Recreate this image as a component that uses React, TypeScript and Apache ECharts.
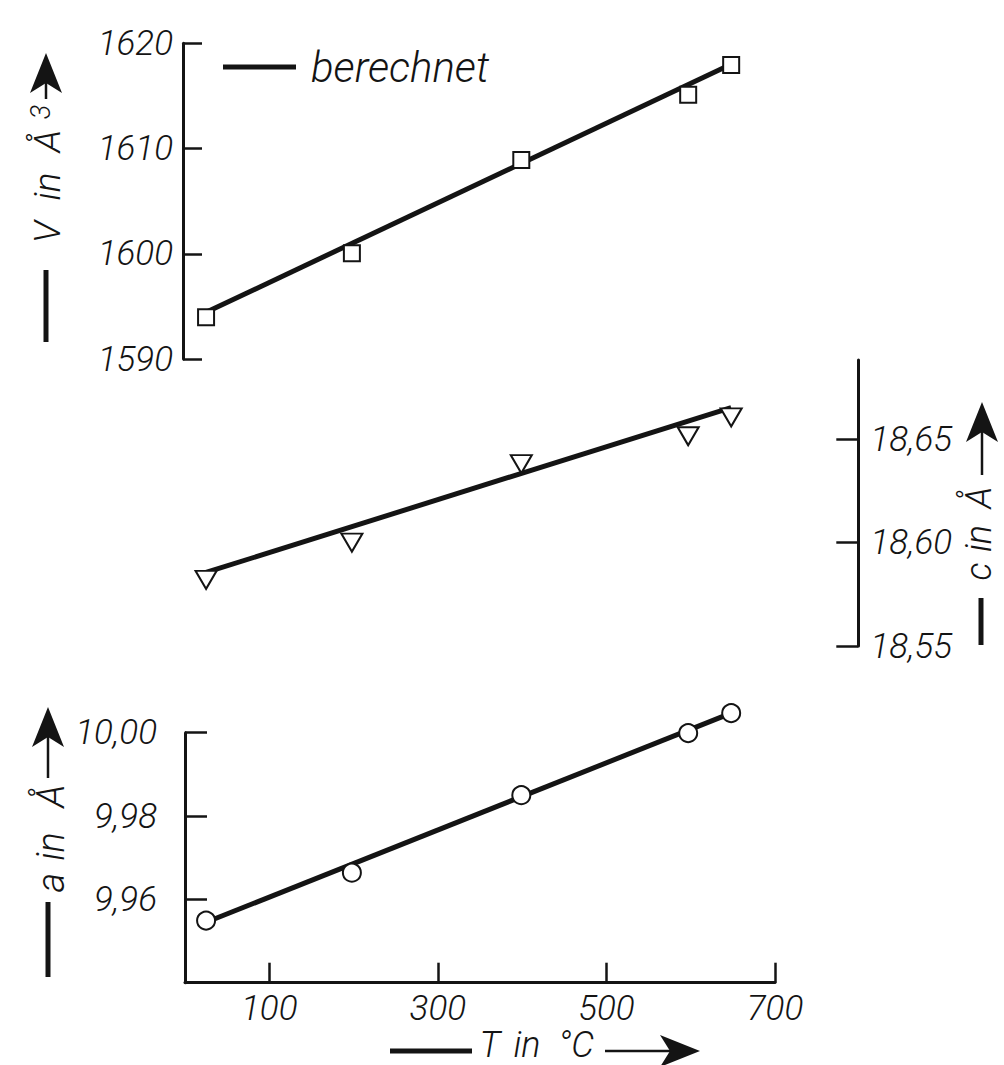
import React, { useEffect, useRef } from 'react';
import * as echarts from 'echarts';

// ---- data ----
const temperatures = [25, 198, 399, 597, 648]; // T in °C
const volumeValues = [1593.96, 1600.05, 1608.92, 1615.1, 1617.94]; // V in Å³ (squares)
const cValues = [18.582, 18.6, 18.638, 18.6515, 18.6606]; // c in Å (triangles)
const aValues = [9.9549, 9.9664, 9.985, 9.9999, 10.0047]; // a in Å (circles)

// calculated ("berechnet") straight lines, end points
const fitT = [25, 648];
const fitV = [1594.44, 1618.0];
const fitC = [18.5856, 18.6654];
const fitA = [9.9545, 10.0047];

const xTicks = [100, 300, 500, 700];

const FONT = 'Roboto, "Liberation Sans", sans-serif';
const INK = '#141414';

const fmtComma = (v: number) => v.toFixed(2).replace('.', ',');
const pairs = (xs: number[], ys: number[]) => xs.map((x, i) => [x, ys[i]]);

const labelStyle = {
  color: INK,
  fontFamily: FONT,
  fontStyle: 'italic',
  fontWeight: 300,
  fontSize: 35,
};

function textStyle(t: string, fs: number) {
  return {
    text: t,
    fontSize: fs,
    fontFamily: FONT,
    fontStyle: 'italic',
    fontWeight: 300,
    fill: INK,
    align: 'center',
    verticalAlign: 'middle',
    textAlign: 'center',
    textVerticalAlign: 'middle',
  };
}

function vText(t: string, x: number, y: number, fs: number) {
  return { type: 'text', x, y, rotation: Math.PI / 2, silent: true, style: textStyle(t, fs) };
}

function hText(t: string, x: number, y: number, fs: number) {
  return { type: 'text', x, y, silent: true, style: textStyle(t, fs) };
}

function vBar(cx: number, y1: number, y2: number) {
  return { type: 'rect', silent: true, shape: { x: cx - 2.5, y: y1, width: 5, height: y2 - y1 }, style: { fill: INK } };
}

function upArrow(cx: number, stemBottom: number, tip: number) {
  const wings = tip + 40;
  const notch = tip + 30;
  return [
    { type: 'line', silent: true, shape: { x1: cx, y1: stemBottom, x2: cx, y2: notch }, style: { stroke: INK, lineWidth: 2.5 } },
    {
      type: 'polygon',
      silent: true,
      shape: { points: [[cx, tip], [cx + 16, wings], [cx, notch], [cx - 16, wings]] },
      style: { fill: INK },
    },
  ];
}

function rightArrow(cy: number, stemLeft: number, tip: number) {
  const wings = tip - 40;
  const notch = tip - 30;
  return [
    { type: 'line', silent: true, shape: { x1: stemLeft, y1: cy, x2: notch, y2: cy }, style: { stroke: INK, lineWidth: 2.5 } },
    {
      type: 'polygon',
      silent: true,
      shape: { points: [[tip, cy], [wings, cy - 16], [notch, cy], [wings, cy + 16]] },
      style: { fill: INK },
    },
  ];
}

export default function App() {
  const ref = useRef<HTMLDivElement>(null);

  useEffect(() => {
    if (!ref.current) return;
    const chart = echarts.init(ref.current, undefined, { renderer: 'svg' });

    const axisLine = { show: true, onZero: false, lineStyle: { color: INK, width: 3 } };
    const hiddenX = (gridIndex: number) => ({
      type: 'value',
      gridIndex,
      min: 0,
      max: 700,
      show: false,
    });

    const graphic: any[] = [
      // top-left: V in Å3
      vBar(46, 270, 342),
      vText('V', 47, 232, 37),
      vText('in', 47, 186.5, 37),
      vText('Å', 47, 141, 37),
      vText('3', 41, 112, 27),
      ...upArrow(46, 99, 53),
      // right: c in Å
      vBar(981, 598, 645),
      vText('c', 979, 571.5, 36),
      vText('in', 979, 538.5, 36),
      vText('Å', 979, 497.5, 36),
      ...upArrow(982, 475, 402),
      // bottom-left: a in Å
      vBar(48, 902, 977),
      vText('a', 51, 882.5, 38),
      vText('in', 51, 846.5, 38),
      vText('Å', 51, 796, 38),
      ...upArrow(48, 778, 707),
      // x name: T in °C
      { type: 'rect', silent: true, shape: { x: 390, y: 1048.5, width: 82, height: 5 }, style: { fill: INK } },
      hText('T', 490, 1045, 36),
      hText('in', 527, 1045, 36),
      hText('°C', 576, 1045, 36),
      ...rightArrow(1051, 605, 700),
    ];

    const scatterItem = { color: '#ffffff', borderColor: INK, borderWidth: 2, opacity: 1 };

    chart.setOption({
      animation: false,
      backgroundColor: '#ffffff',
      legend: {
        data: [{ name: 'berechnet', icon: 'rect' }],
        left: 223,
        top: 46,
        padding: 0,
        itemWidth: 73,
        itemHeight: 5,
        selectedMode: false,
        textStyle: { ...labelStyle, fontSize: 42, padding: [0, 0, 0, 10] },
      },
      grid: [
        { left: 185, right: 229, top: 43.3, height: 315.7 },
        { left: 185, right: 229, top: 360, height: 286 },
        { left: 185, right: 229, top: 732.7, height: 250 },
      ],
      xAxis: [
        hiddenX(0),
        hiddenX(1),
        {
          type: 'value',
          gridIndex: 2,
          min: 0,
          max: 700,
          axisLine,
          axisTick: { show: true, inside: true, length: 20, customValues: xTicks, lineStyle: { color: INK, width: 2.5 } },
          axisLabel: { ...labelStyle, margin: 8, customValues: xTicks, formatter: (v: number) => String(v) },
          splitLine: { show: false },
        },
      ],
      yAxis: [
        {
          type: 'value',
          gridIndex: 0,
          min: 1590,
          max: 1620,
          interval: 10,
          offset: 2,
          axisLine,
          axisTick: { show: true, inside: true, length: 19, lineStyle: { color: INK, width: 2.5 } },
          axisLabel: { ...labelStyle, margin: 10, formatter: (v: number) => String(Math.round(v)) },
          splitLine: { show: false },
        },
        {
          type: 'value',
          gridIndex: 1,
          position: 'right',
          offset: 83.3,
          min: 18.55,
          max: 18.6884,
          interval: 0.05,
          axisLine,
          axisTick: { show: true, inside: true, length: 22, lineStyle: { color: INK, width: 2.5 } },
          axisLabel: { ...labelStyle, margin: 12, showMaxLabel: false, formatter: (v: number) => fmtComma(v) },
          splitLine: { show: false },
        },
        {
          type: 'value',
          gridIndex: 2,
          min: 9.94,
          max: 10.0,
          interval: 0.02,
          axisLine,
          axisTick: { show: true, inside: true, length: 22, lineStyle: { color: INK, width: 2.5 } },
          axisLabel: {
            ...labelStyle,
            margin: 28,
            formatter: (v: number) => (Math.abs(v - 9.94) < 1e-6 ? '' : fmtComma(v)),
          },
          splitLine: { show: false },
        },
      ],
      series: [
        {
          name: 'berechnet',
          type: 'line',
          xAxisIndex: 0,
          yAxisIndex: 0,
          data: pairs(fitT, fitV),
          symbol: 'none',
          lineStyle: { color: INK, width: 5 },
          itemStyle: { color: INK },
          z: 2,
        },
        {
          name: 'V',
          type: 'scatter',
          xAxisIndex: 0,
          yAxisIndex: 0,
          data: pairs(temperatures, volumeValues),
          symbol: 'rect',
          symbolSize: 16,
          itemStyle: scatterItem,
          z: 3,
        },
        {
          name: 'berechnet',
          type: 'line',
          xAxisIndex: 1,
          yAxisIndex: 1,
          data: pairs(fitT, fitC),
          symbol: 'none',
          lineStyle: { color: INK, width: 5 },
          itemStyle: { color: INK },
          z: 2,
        },
        {
          name: 'c',
          type: 'scatter',
          xAxisIndex: 1,
          yAxisIndex: 1,
          data: pairs(temperatures, cValues),
          symbol: 'triangle',
          symbolRotate: 180,
          symbolSize: [21, 18],
          itemStyle: scatterItem,
          z: 3,
        },
        {
          name: 'berechnet',
          type: 'line',
          xAxisIndex: 2,
          yAxisIndex: 2,
          data: pairs(fitT, fitA),
          symbol: 'none',
          clip: false,
          lineStyle: { color: INK, width: 5 },
          itemStyle: { color: INK },
          z: 2,
        },
        {
          name: 'a',
          type: 'scatter',
          xAxisIndex: 2,
          yAxisIndex: 2,
          data: pairs(temperatures, aValues),
          symbol: 'circle',
          symbolSize: 18,
          clip: false,
          itemStyle: scatterItem,
          z: 3,
        },
      ],
      graphic,
    });

    return () => chart.dispose();
  }, []);

  return (
    <div
      ref={ref}
      style={{ position: 'absolute', left: 0, top: 0, width: 1004, height: 1065, background: '#fff' }}
    />
  );
}
